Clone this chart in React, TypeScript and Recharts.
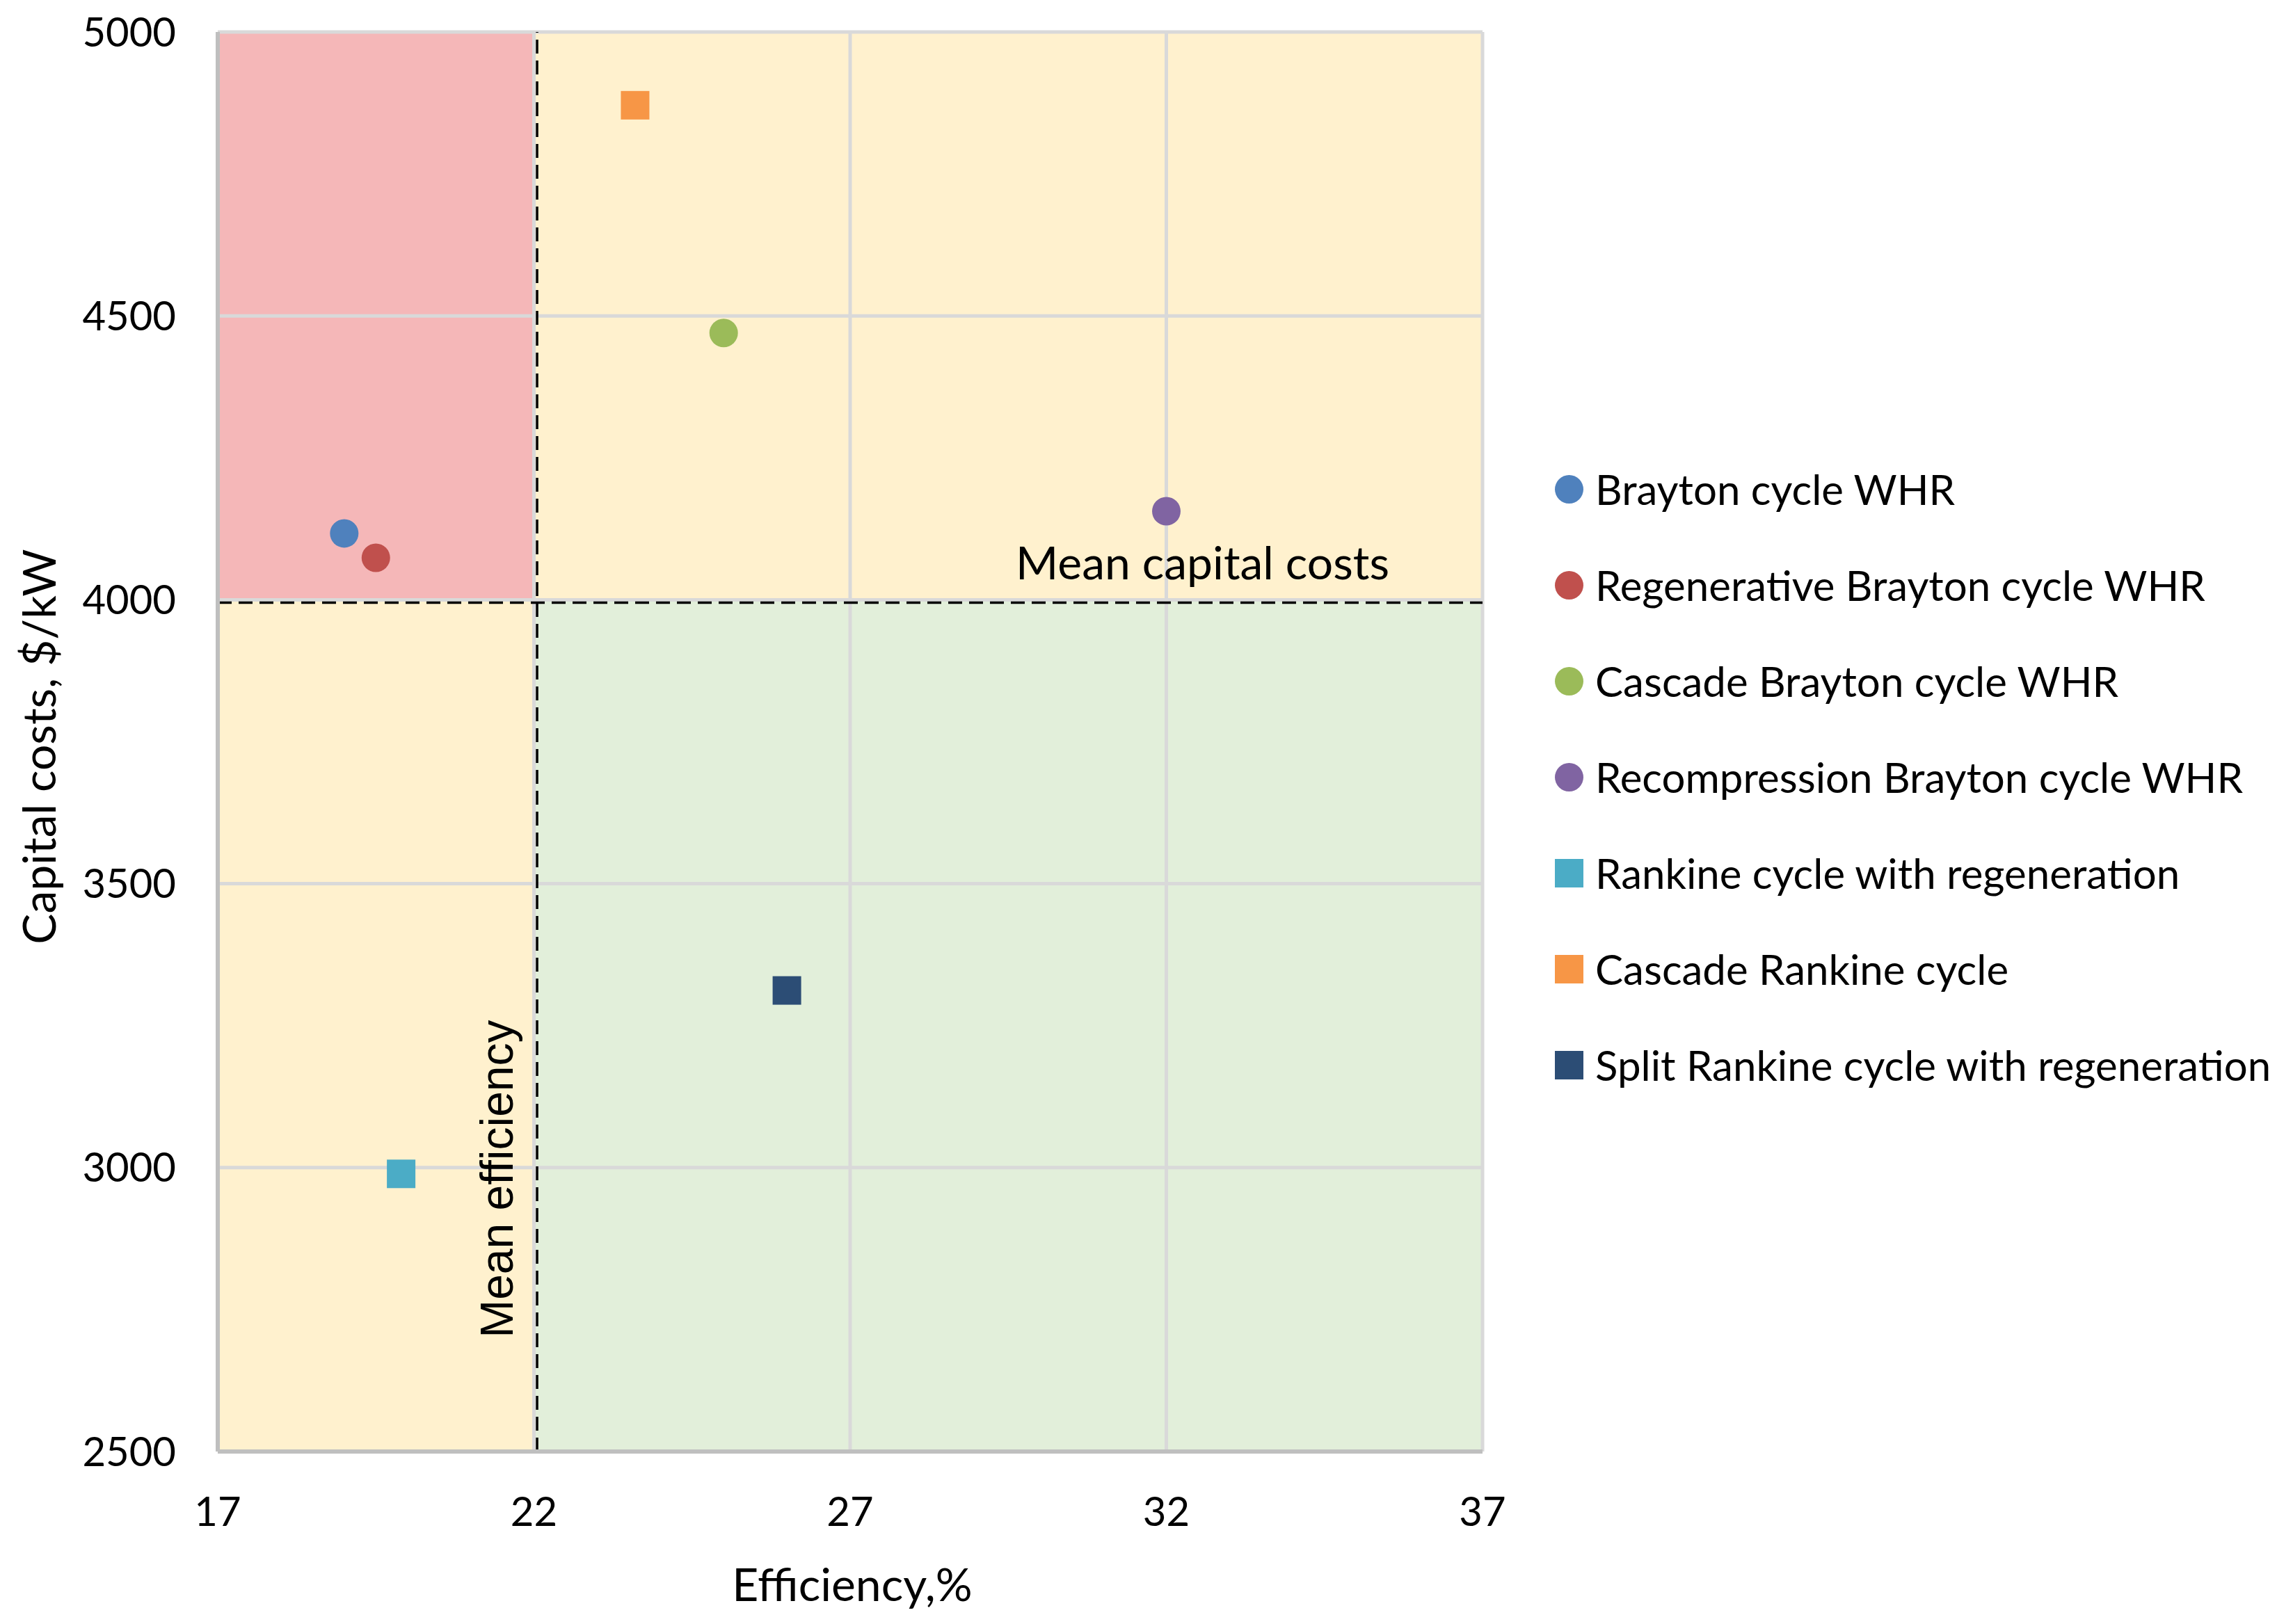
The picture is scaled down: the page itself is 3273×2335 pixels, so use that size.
import React from 'react';
import {
  ScatterChart,
  Scatter,
  XAxis,
  YAxis,
  ReferenceArea,
  ReferenceLine,
  Legend,
} from 'recharts';

const seriesNames = [
  'Brayton cycle WHR',
  'Regenerative Brayton cycle WHR',
  'Cascade Brayton cycle WHR',
  'Recompression Brayton cycle WHR',
  'Rankine cycle with regeneration',
  'Cascade Rankine cycle',
  'Split Rankine cycle with regeneration',
];
const efficiency = [19.0, 19.5, 25.0, 32.0, 19.9, 23.6, 26.0];
const capitalCost = [4117, 4074, 4470, 4156, 2989, 4871, 3312];
const seriesColors = ['#4F81BD', '#C0504D', '#9BBB59', '#8064A2', '#4BACC6', '#F79646', '#2C4D75'];
const seriesShapes = ['circle', 'circle', 'circle', 'circle', 'square', 'square', 'square'];

const xTicks = [17, 22, 27, 32, 37];
const yTicks = [2500, 3000, 3500, 4000, 4500, 5000];
const xGridValues = [22, 27, 32, 37];
const yGridValues = [3000, 3500, 4000, 4500, 5000];

const meanEfficiency = 22.05;
const meanCapitalCost = 3995;

const quadrantX = [17, 22, 37];
const quadrantY = [2500, 4000, 5000];
const quadrantFills = {
  topLeft: '#F5B7B8',
  topRight: '#FFF1CE',
  bottomLeft: '#FFF1CE',
  bottomRight: '#E2EFDA',
};

const TEXT = '#000000';
const FONT = 'Lato, "Noto Sans", sans-serif';

const MARK = 41;

const makeShape = (kind: string, color: string) => (props: any) => {
  const { cx, cy } = props;
  if (cx == null || cy == null) return null;
  if (kind === 'circle') {
    return <circle cx={cx} cy={cy} r={MARK / 2} fill={color} />;
  }
  return <rect x={cx - MARK / 2} y={cy - MARK / 2} width={MARK} height={MARK} fill={color} />;
};

const renderLegend = (props: any) => {
  const payload = [...(props.payload || [])].sort(
    (a: any, b: any) => seriesNames.indexOf(a.value) - seriesNames.indexOf(b.value)
  );
  return (
    <div style={{ fontFamily: FONT }}>
      {payload.map((entry: any) => {
        const idx = seriesNames.indexOf(entry.value);
        const kind = seriesShapes[idx];
        const color = seriesColors[idx];
        return (
          <div
            key={entry.value}
            style={{ display: 'flex', alignItems: 'center', height: 138, whiteSpace: 'nowrap' }}
          >
            <span
              style={{
                display: 'inline-block',
                width: MARK,
                height: MARK,
                background: color,
                borderRadius: kind === 'circle' ? '50%' : 0,
                marginRight: 17,
                flex: 'none',
              }}
            />
            <span style={{ fontSize: 60, color: TEXT, lineHeight: '138px' }}>{entry.value}</span>
          </div>
        );
      })}
    </div>
  );
};

const YTitle = (props: any) => {
  const vb = props.viewBox || { x: 0, y: 46, width: 313, height: 2041 };
  const x = vb.x + 80;
  const y = vb.y + vb.height / 2 + 7;
  return (
    <text
      x={x}
      y={y}
      transform={`rotate(-90, ${x}, ${y})`}
      textAnchor="middle"
      fontFamily={FONT}
      fontSize={66}
      fill={TEXT}
    >
      Capital costs, $/kW
    </text>
  );
};

const XTitle = (props: any) => {
  const vb = props.viewBox || { x: 313, y: 2087, width: 1818, height: 248 };
  return (
    <text
      x={vb.x + vb.width / 2 + 3}
      y={vb.y + 215}
      textAnchor="middle"
      fontFamily={FONT}
      fontSize={66}
      fill={TEXT}
    >
      Efficiency,%
    </text>
  );
};

const MeanEffLabel = (props: any) => {
  const vb = props.viewBox || { x: 772, y: 46, width: 0, height: 2041 };
  const x = vb.x - 35;
  const y = vb.y + vb.height * 0.808;
  return (
    <text
      x={x}
      y={y}
      transform={`rotate(-90, ${x}, ${y})`}
      textAnchor="middle"
      fontFamily='"Liberation Sans", Arial, sans-serif'
      fontSize={66}
      fill={TEXT}
    >
      Mean efficiency
    </text>
  );
};

const MeanCostLabel = (props: any) => {
  const vb = props.viewBox || { x: 313, y: 866, width: 1818, height: 0 };
  return (
    <text
      x={vb.x + vb.width - 134}
      y={vb.y - 33}
      textAnchor="end"
      fontFamily={FONT}
      fontSize={66}
      fill={TEXT}
    >
      Mean capital costs
    </text>
  );
};

export default function App() {
  return (
    <div style={{ position: 'absolute', left: 0, top: 0, width: 3273, height: 2335, background: '#fff' }}>
      <ScatterChart
        width={3273}
        height={2335}
        margin={{ top: 46, right: 1142, bottom: 0, left: 0 }}
        style={{ fontFamily: FONT }}
      >
        <XAxis
          type="number"
          dataKey="x"
          domain={[17, 37]}
          ticks={xTicks}
          allowDataOverflow
          height={248}
          tickLine={false}
          tickSize={0}
          tickMargin={66}
          axisLine={{ stroke: '#BFBFBF', strokeWidth: 6 }}
          tick={{ fontSize: 58, fill: TEXT, fontFamily: FONT }}
          label={XTitle}
        />
        <YAxis
          type="number"
          dataKey="y"
          domain={[2500, 5000]}
          ticks={yTicks}
          allowDataOverflow
          width={313}
          tickLine={false}
          tickSize={0}
          tickMargin={60}
          axisLine={{ stroke: '#BFBFBF', strokeWidth: 6 }}
          tick={{ fontSize: 58, fill: TEXT, fontFamily: FONT }}
          label={YTitle}
        />

        <ReferenceArea
          x1={quadrantX[0]}
          x2={quadrantX[1]}
          y1={quadrantY[1]}
          y2={quadrantY[2]}
          fill={quadrantFills.topLeft}
          fillOpacity={1}
          stroke="none"
        />
        <ReferenceArea
          x1={quadrantX[1]}
          x2={quadrantX[2]}
          y1={quadrantY[1]}
          y2={quadrantY[2]}
          fill={quadrantFills.topRight}
          fillOpacity={1}
          stroke="none"
        />
        <ReferenceArea
          x1={quadrantX[0]}
          x2={quadrantX[1]}
          y1={quadrantY[0]}
          y2={quadrantY[1]}
          fill={quadrantFills.bottomLeft}
          fillOpacity={1}
          stroke="none"
        />
        <ReferenceArea
          x1={quadrantX[1]}
          x2={quadrantX[2]}
          y1={quadrantY[0]}
          y2={quadrantY[1]}
          fill={quadrantFills.bottomRight}
          fillOpacity={1}
          stroke="none"
        />

        {xGridValues.map((v) => (
          <ReferenceLine key={`gx${v}`} x={v} stroke="#D9D9D9" strokeWidth={5} />
        ))}
        {yGridValues.map((v) => (
          <ReferenceLine key={`gy${v}`} y={v} stroke="#D9D9D9" strokeWidth={5} />
        ))}

        <ReferenceLine
          x={meanEfficiency}
          stroke="#000"
          strokeWidth={3.5}
          strokeDasharray="20 10"
          label={MeanEffLabel}
        />
        <ReferenceLine
          y={meanCapitalCost}
          stroke="#000"
          strokeWidth={3.5}
          strokeDasharray="20 10"
          label={MeanCostLabel}
        />

        {seriesNames.map((name, i) => (
          <Scatter
            key={name}
            name={name}
            data={[{ x: efficiency[i], y: capitalCost[i] }]}
            fill={seriesColors[i]}
            legendType={seriesShapes[i] === 'circle' ? 'circle' : 'square'}
            shape={makeShape(seriesShapes[i], seriesColors[i])}
            isAnimationActive={false}
          />
        ))}

        <Legend
          layout="vertical"
          align="center"
          verticalAlign="middle"
          wrapperStyle={{ left: 2235, top: 634, width: 1038 }}
          content={renderLegend}
        />
      </ScatterChart>
    </div>
  );
}
